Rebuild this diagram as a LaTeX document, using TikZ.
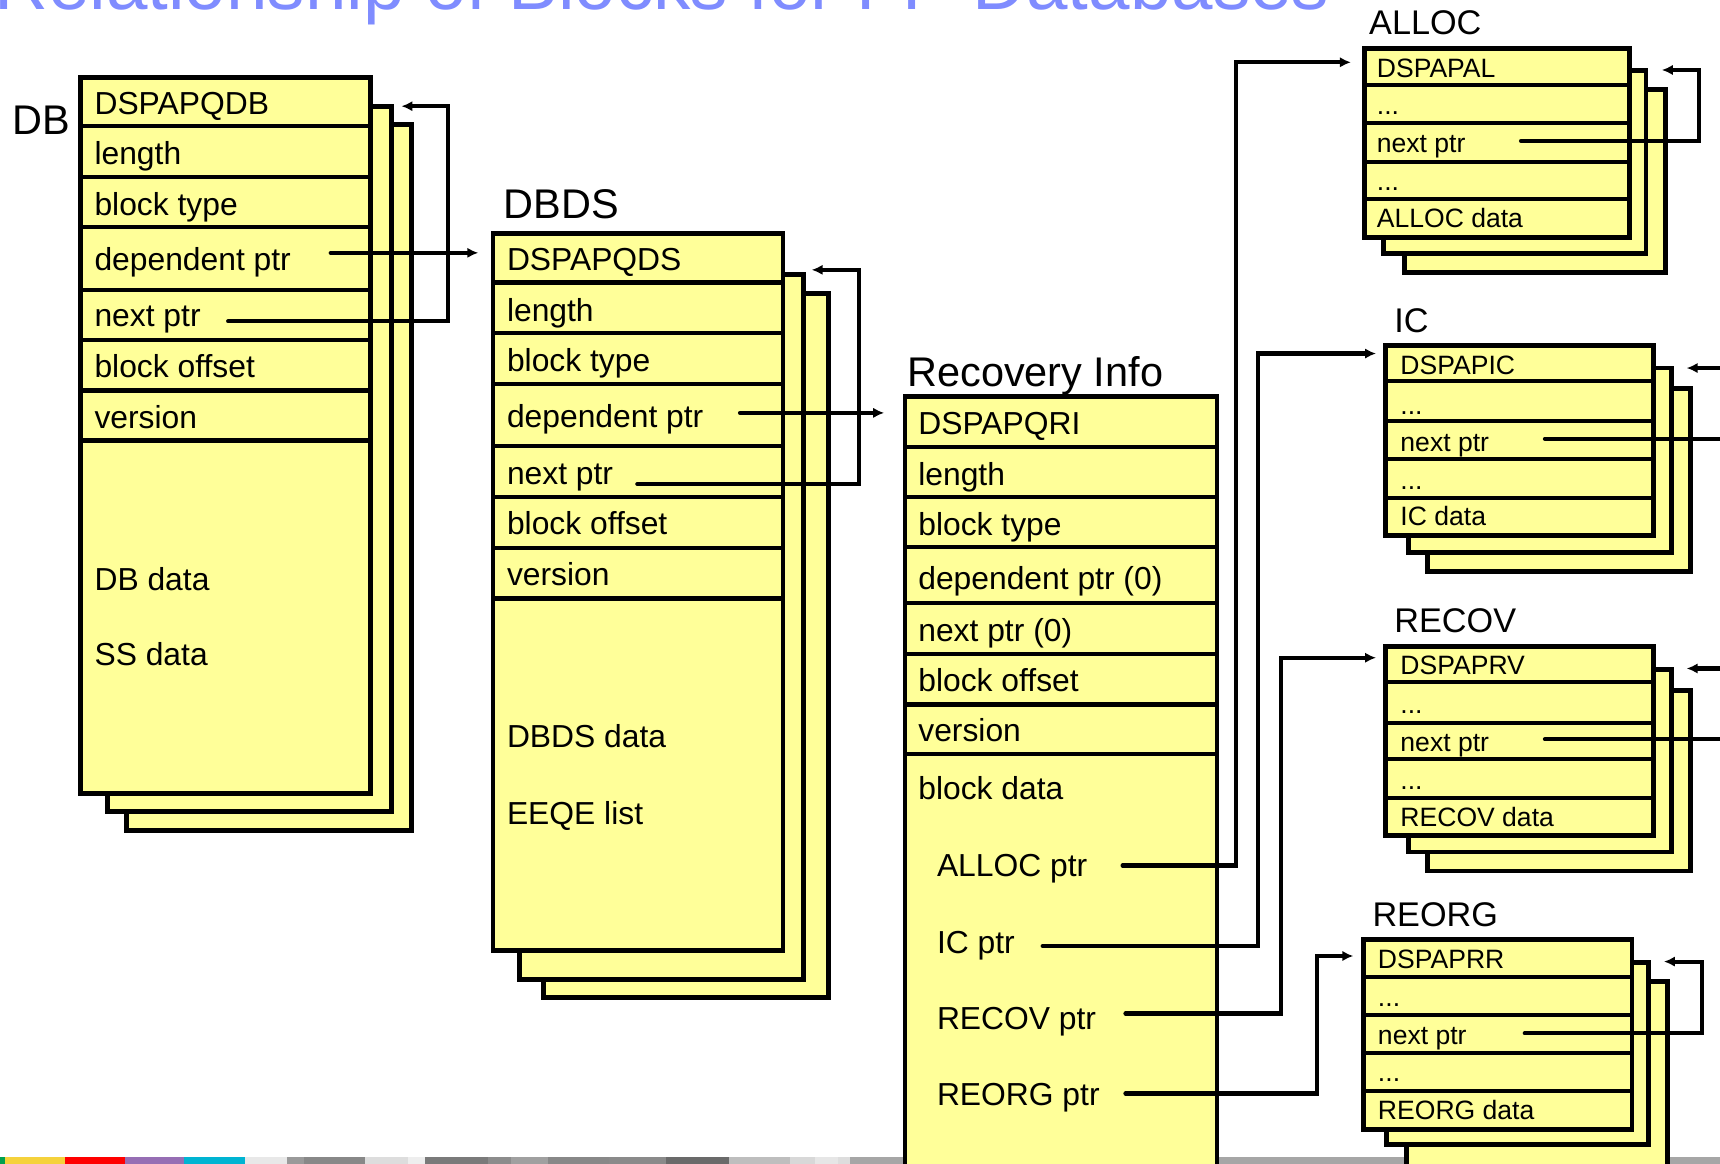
\documentclass[tikz,border=0pt]{standalone}
\usepackage{fontspec}
\setmainfont{Liberation Sans}
\usetikzlibrary{arrows.meta}
\definecolor{boxyel}{HTML}{FFFF99}
\definecolor{titleblue}{HTML}{7F8CFF}
\newcommand{\pgrect}[4]{\path[pg] (#1,#2) rectangle (#3,#4);}
\newcommand{\seprow}[3]{\draw[sep] (#1,#3) -- (#2,#3);}
\newcommand{\stripseg}[3]{\definecolor{stripc}{HTML}{#3}\fill[stripc] (#1,1054.3) rectangle (#2,1062);}
\begin{document}
\begin{tikzpicture}[x=1pt,y=-1pt,
  pg/.style={draw=black, fill=boxyel, line width=4.4pt},
  sep/.style={draw=black, line width=3.8pt},
  big/.style={font=\fontsize{29}{30}\selectfont, anchor=base west, inner sep=0pt},
  small/.style={font=\fontsize{24.2}{26}\selectfont, anchor=base west, inner sep=0pt},
  lbl/.style={font=\fontsize{37.8}{40}\selectfont, anchor=base west, inner sep=0pt},
  slbl/.style={font=\fontsize{31.2}{33}\selectfont, anchor=base west, inner sep=0pt},
  ptr/.style={line width=3.8pt, line cap=round, -{Latex[length=10pt,width=9.5pt]}},
]
\useasboundingbox (0,0) rectangle (1568,1061);
\clip (0,0) rectangle (1568,1061);
\fill[white] (0,0) rectangle (1568,1061);

% title (cropped at top)
\node[font=\fontsize{68}{70}\selectfont, text=titleblue, anchor=base east, inner sep=0pt] (title) at (1212,8.5) {Relationship of Blocks for FP Databases};

% bottom strip
\stripseg{0}{4.2}{00A050}
\stripseg{4.2}{59.1}{F5D23C}
\stripseg{59.1}{114}{FF0000}
\stripseg{114}{168}{966EB4}
\stripseg{168}{223.3}{00B4D2}
\stripseg{223.3}{262}{E8E8E8}
\stripseg{262}{277}{9A9A9A}
\stripseg{277}{333}{888888}
\stripseg{333}{372}{DDDDDD}
\stripseg{372}{387}{EEEEEE}
\stripseg{387}{445}{7A7A7A}
\stripseg{445}{466}{8C8C8C}
\stripseg{466}{500}{A0A0A0}
\stripseg{500}{555}{888888}
\stripseg{555}{607}{8A8A8A}
\stripseg{607}{665}{6A6A6A}
\stripseg{665}{720}{BEBEBE}
\stripseg{720}{743}{D8D8D8}
\stripseg{743}{764}{E6E6E6}
\stripseg{764}{775}{DDDDDD}
\stripseg{775}{1568}{A6A6A6}

% ---------------- DB ----------------
\pgrect{115}{113.8}{375.5}{757.4}
\pgrect{98.3}{96.8}{357}{740}
\pgrect{73.5}{70.5}{338}{723.5}
\foreach \yy in {115,161.6,207.2,264,309.6,356,401.6} {\seprow{73.5}{338}{\yy}}
\node[lbl] (dbl) at (11,123) {DB};
\node[big] (db1) at (86,104) {DSPAPQDB};
\node[big] (db2) at (86,150) {length};
\node[big] (db3) at (86,196.5) {block type};
\node[big] (db4) at (86,246.8) {dependent ptr};
\node[big] (db5) at (86,298) {next ptr};
\node[big] (db6) at (86,344) {block offset};
\node[big] (db7) at (86,390.5) {version};
\node[big] (db8) at (86,538.4) {DB data};
\node[big] (db9) at (86,607) {SS data};

% ---------------- DBDS ----------------
\pgrect{495.8}{267.7}{755}{909.6}
\pgrect{473.4}{250}{732.7}{893}
\pgrect{449.5}{213}{713.8}{866.7}
\foreach \yy in {257.6,303.9,350,406.4,453,499.4,545.6} {\seprow{449.5}{713.8}{\yy}}
\node[lbl] (dsl) at (459,199) {DBDS};
\node[big] (ds1) at (462,246.7) {DSPAPQDS};
\node[big] (ds2) at (462,292.9) {length};
\node[big] (ds3) at (462,338.7) {block type};
\node[big] (ds4) at (462,389.7) {dependent ptr};
\node[big] (ds5) at (462,442) {next ptr};
\node[big] (ds6) at (462,487.4) {block offset};
\node[big] (ds7) at (462,533.7) {version};
\node[big] (ds8) at (462,681.5) {DBDS data};
\node[big] (ds9) at (462,752) {EEQE list};

% ---------------- Recovery Info ----------------
\pgrect{825}{361.2}{1109.5}{1085}
\foreach \yy in {407.5,453,499,550,596,642.3,687.3} {\seprow{825}{1109.5}{\yy}}
\node[lbl] (ril) at (827,352) {Recovery Info};
\node[big] (ri1) at (837,395.7) {DSPAPQRI};
\node[big] (ri2) at (837,443) {length};
\node[big] (ri3) at (837,488.5) {block type};
\node[big] (ri4) at (837,537.8) {dependent ptr (0)};
\node[big] (ri5) at (837,585) {next ptr (0)};
\node[big] (ri6) at (837,630.5) {block offset};
\node[big] (ri7) at (837,676.4) {version};
\node[big] (ri8) at (837,728.4) {block data};
\node[big] (ri9) at (854,799.4) {ALLOC ptr};
\node[big] (ri10) at (854,869) {IC ptr};
\node[big] (ri11) at (854,938.9) {RECOV ptr};
\node[big] (ri12) at (854,1007.8) {REORG ptr};

% ---------------- ALLOC ----------------
\pgrect{1280}{81.6}{1518}{248.7}
\pgrect{1261}{64.3}{1500.5}{231.4}
\pgrect{1243.6}{44}{1485.5}{216.8}
\foreach \yy in {77.5,112.4,147.4,181.4} {\seprow{1243.6}{1485.5}{\yy}}
\node[slbl] (all) at (1248,31.9) {ALLOC};
\node[small] (al1) at (1255,70.5) {DSPAPAL};
\node[small] (al2) at (1255,104.2) {...};
\node[small] (al3) at (1255,139) {next ptr};
\node[small] (al4) at (1255,173.8) {...};
\node[small] (al5) at (1255,207.5) {ALLOC data};

% ---------------- IC ----------------
\pgrect{1301}{354}{1541}{521}
\pgrect{1283.7}{335.5}{1523.4}{503.5}
\pgrect{1263}{315}{1507.6}{488.4}
\foreach \yy in {347.4,383.7,418.2,454.1} {\seprow{1263}{1507.6}{\yy}}
\node[slbl] (icl) at (1271,303) {IC};
\node[small] (ic1) at (1276.5,341.5) {DSPAPIC};
\node[small] (ic2) at (1276.5,378) {...};
\node[small] (ic3) at (1276.5,411.3) {next ptr};
\node[small] (ic4) at (1276.5,446) {...};
\node[small] (ic5) at (1276.5,479.3) {IC data};

% ---------------- RECOV ----------------
\pgrect{1301}{629.6}{1541}{794}
\pgrect{1283.7}{610.4}{1523.4}{776.7}
\pgrect{1263}{589.4}{1507.6}{761.6}
\foreach \yy in {621.7,659,692,727.7} {\seprow{1263}{1507.6}{\yy}}
\node[slbl] (rvl) at (1271,577) {RECOV};
\node[small] (rv1) at (1276.5,614.7) {DSPAPRV};
\node[small] (rv2) at (1276.5,650.3) {...};
\node[small] (rv3) at (1276.5,685.2) {next ptr};
\node[small] (rv4) at (1276.5,719.3) {...};
\node[small] (rv5) at (1276.5,753.2) {RECOV data};

% ---------------- REORG ----------------
\pgrect{1282}{894.7}{1520.3}{1080}
\pgrect{1263.6}{877.1}{1503}{1043.3}
\pgrect{1243.3}{856.5}{1487.8}{1029.6}
\foreach \yy in {890.3,925.3,960.2,994.2} {\seprow{1243.3}{1487.8}{\yy}}
\node[slbl] (rgl) at (1251,844.7) {REORG};
\node[small] (rg1) at (1256,882.7) {DSPAPRR};
\node[small] (rg2) at (1256,917.7) {...};
\node[small] (rg3) at (1256,952) {next ptr};
\node[small] (rg4) at (1256,986) {...};
\node[small] (rg5) at (1256,1020.4) {REORG data};

% ---------------- pointer coordinates ----------------
\coordinate (dbdep) at (301.5,230.5);
\coordinate (dbdepT) at (436,230.5);
\coordinate (dbnext) at (208,292.8);
\coordinate (dbnextT) at (366,96.8);
\coordinate (dsdep) at (674.6,376.4);
\coordinate (dsdepT) at (806,376.4);
\coordinate (dsnext) at (581,441.2);
\coordinate (dsnextT) at (740,246);
\coordinate (rial) at (1023.4,789);
\coordinate (rialT) at (1231.5,56.8);
\coordinate (riic) at (950.5,862.4);
\coordinate (riicT) at (1254.4,322.3);
\coordinate (rirv) at (1026,923.9);
\coordinate (rirvT) at (1254.4,599.6);
\coordinate (rirg) at (1026,996.8);
\coordinate (rirgT) at (1233.7,871.5);
\coordinate (alnext) at (1386.6,128.5);
\coordinate (alnextT) at (1515,63.8);
\coordinate (icnext) at (1408.4,400);
\coordinate (icnextT) at (1537.6,335.5);
\coordinate (rvnext) at (1408.4,674);
\coordinate (rvnextT) at (1537.6,609.4);
\coordinate (rgnext) at (1390,942);
\coordinate (rgnextT) at (1516.9,876.6);

% ---------------- pointers ----------------
\draw[ptr] (dbdep) -- (dbdepT);
\draw[ptr] (dbnext) -- (408.7,292.8) -- (408.7,96.8) -- (dbnextT);
\draw[ptr] (dsdep) -- (dsdepT);
\draw[ptr] (dsnext) -- (783.3,441.2) -- (783.3,246) -- (dsnextT);
\draw[ptr] (rial) -- (1126.7,789) -- (1126.7,56.8) -- (rialT);
\draw[ptr] (riic) -- (1147,862.4) -- (1147,322.3) -- (riicT);
\draw[ptr] (rirv) -- (1167.4,923.9) -- (1167.4,599.6) -- (rirvT);
\draw[ptr] (rirg) -- (1200.3,996.8) -- (1200.3,871.5) -- (rirgT);
\draw[ptr] (alnext) -- (1548.8,128.5) -- (1548.8,63.8) -- (alnextT);
\draw[ptr] (icnext) -- (1590,400) -- (1590,335.5) -- (icnextT);
\draw[ptr] (rvnext) -- (1590,674) -- (1590,609.4) -- (rvnextT);
\draw[ptr] (rgnext) -- (1551.2,942) -- (1551.2,876.6) -- (rgnextT);
\end{tikzpicture}
\end{document}
